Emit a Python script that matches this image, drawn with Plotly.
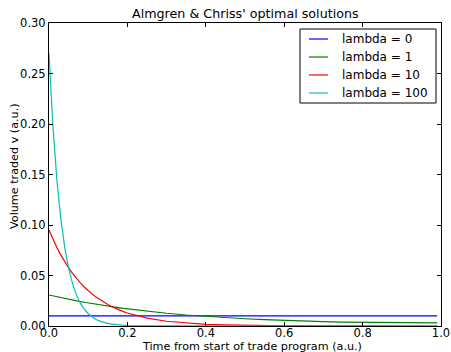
import plotly.graph_objects as go

t = [0.0, 0.01, 0.02, 0.03, 0.04, 0.05, 0.06, 0.07, 0.08, 0.09, 0.10,
     0.11, 0.12, 0.13, 0.14, 0.15, 0.16, 0.17, 0.18, 0.19, 0.20,
     0.25, 0.30, 0.35, 0.40, 0.45, 0.50, 0.55, 0.60, 0.65, 0.70,
     0.75, 0.80, 0.85, 0.90, 0.95, 0.99]

v_lambda0 = [0.01] * len(t)

v_lambda1 = [0.0307, 0.0298, 0.0289, 0.0281, 0.0272, 0.0264, 0.0257, 0.0249, 0.0242, 0.0235, 0.0228,
             0.0221, 0.0215, 0.0208, 0.0202, 0.0196, 0.0191, 0.0185, 0.0180, 0.0174, 0.0169,
             0.0146, 0.0126, 0.0109, 0.0095, 0.0082, 0.0072, 0.0063, 0.0055, 0.0049, 0.0044,
             0.0039, 0.0036, 0.0034, 0.0032, 0.0031, 0.0030]

v_lambda10 = [0.0950, 0.0860, 0.0778, 0.0704, 0.0637, 0.0576, 0.0521, 0.0472, 0.0427, 0.0386, 0.0349,
              0.0316, 0.0286, 0.0259, 0.0234, 0.0212, 0.0192, 0.0174, 0.0157, 0.0142, 0.0129,
              0.0078, 0.0047, 0.0029, 0.0017, 0.0011, 0.0006, 0.0004, 0.0002, 0.0001, 0.0001,
              0.0001, 0.0000, 0.0000, 0.0000, 0.0000, 0.0000]

v_lambda100 = [0.2700, 0.1980, 0.1450, 0.1065, 0.0781, 0.0573, 0.0420, 0.0308, 0.0226, 0.0166, 0.0122,
               0.0089, 0.0065, 0.0048, 0.0035, 0.0026, 0.0019, 0.0014, 0.0010, 0.0007, 0.0005,
               0.0001, 0.0000, 0.0000, 0.0000, 0.0000, 0.0000, 0.0000, 0.0000, 0.0000, 0.0000,
               0.0000, 0.0000, 0.0000, 0.0000, 0.0000, 0.0000]

series_names = ["lambda = 0", "lambda = 1", "lambda = 10", "lambda = 100"]
series_values = [v_lambda0, v_lambda1, v_lambda10, v_lambda100]
colors = ["#0000ff", "#008000", "#ff0000", "#00bfbf"]

x_ticks = [0.0, 0.2, 0.4, 0.6, 0.8, 1.0]
x_tick_labels = ["0.0", "0.2", "0.4", "0.6", "0.8", "1.0"]
y_ticks = [0.00, 0.05, 0.10, 0.15, 0.20, 0.25, 0.30]
y_tick_labels = ["0.00", "0.05", "0.10", "0.15", "0.20", "0.25", "0.30"]

fig = go.Figure()
for name, vals, c in zip(series_names, series_values, colors):
    fig.add_trace(go.Scatter(x=t, y=vals, mode="lines", name=name,
                             line=dict(color=c, width=1.2), showlegend=False))

font = "DejaVu Sans, Liberation Sans, sans-serif"
L, R, T, B = 49, 10, 23, 26
W, H = 451, 352
pw, ph = W - L - R, H - T - B


def px(x):
    return (x - L) / pw


def py(y):
    return 1 - (y - T) / ph


shapes = [dict(type="rect", xref="paper", yref="paper",
               x0=px(300), x1=px(436), y0=py(103), y1=py(29),
               line=dict(color="black", width=1), fillcolor="white", layer="above")]
annotations = [
    dict(text="Almgren & Chriss' optimal solutions", xref="paper", yref="paper",
         x=0.5, y=py(14), xanchor="center", yanchor="middle",
         showarrow=False, font=dict(size=12.7)),
    dict(text="Time from start of trade program (a.u.)", xref="paper", yref="paper",
         x=px(140), y=py(346.5), xanchor="left", yanchor="middle",
         showarrow=False, font=dict(size=11.2)),
    dict(text="Volume traded v (a.u.)", xref="paper", yref="paper",
         x=px(14), y=py(166), xanchor="center", yanchor="middle",
         textangle=-90, showarrow=False, font=dict(size=11.2)),
]
for i, (name, c) in enumerate(zip(series_names, colors)):
    row_y = 39 + 18 * i
    shapes.append(dict(type="line", xref="paper", yref="paper",
                       x0=px(309), x1=px(328), y0=py(row_y), y1=py(row_y),
                       line=dict(color=c, width=1.2), layer="above"))
    annotations.append(dict(text=name, xref="paper", yref="paper",
                            x=px(340), y=py(row_y), xanchor="left", yanchor="middle",
                            showarrow=False, font=dict(size=12)))

fig.update_layout(
    width=W, height=H,
    margin=dict(l=L, r=R, t=T, b=B, autoexpand=False),
    paper_bgcolor="white", plot_bgcolor="white",
    font=dict(family=font, size=11.5, color="black"),
    showlegend=False,
    xaxis=dict(range=[0, 1], tickvals=x_ticks, ticktext=x_tick_labels,
               showgrid=False, zeroline=False, showline=True, linecolor="black",
               linewidth=1, mirror="allticks", ticks="inside", ticklen=4,
               tickcolor="black", automargin=False, ticklabelstandoff=-4),
    yaxis=dict(range=[0, 0.30], tickvals=y_ticks, ticktext=y_tick_labels,
               showgrid=False, zeroline=False, showline=True, linecolor="black",
               linewidth=1, mirror="allticks", ticks="inside", ticklen=4,
               tickcolor="black", automargin=False),
    shapes=shapes,
    annotations=annotations,
)

fig.write_html("out.html")
